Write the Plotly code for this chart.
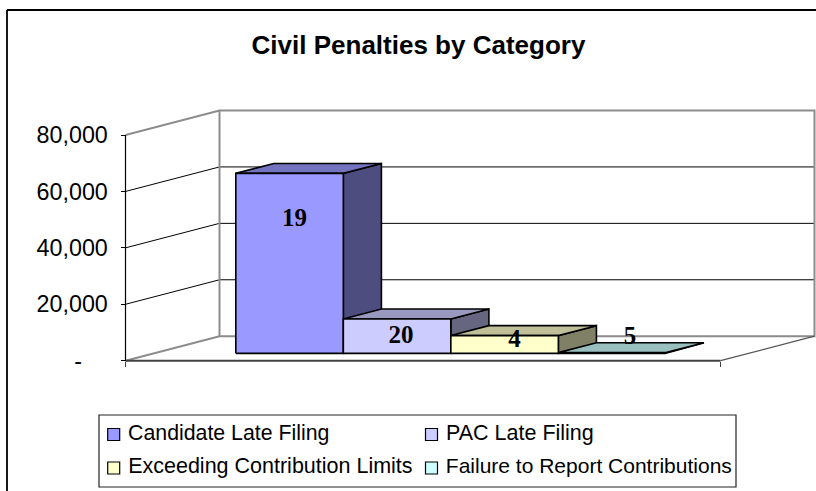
import plotly.graph_objects as go

# ---- data ----
title = "Civil Penalties by Category"
series = ["Candidate Late Filing", "PAC Late Filing", "Exceeding Contribution Limits", "Failure to Report Contributions"]
values = [63800, 12200, 6300, 250]
counts = ["19", "20", "4", "5"]
count_heights = [50000, 8400, 7000, 8100]
y_ticks = [0, 20000, 40000, 60000, 80000]
y_tick_labels = ["-\u00a0\u00a0\u00a0\u00a0", "20,000", "40,000", "60,000", "80,000"]

# ---- styles ----
front = ["#9999FF", "#CCCCFF", "#FFFFCC", "#CCFFFF"]
top = ["#7373BF", "#9999BF", "#BFBF99", "#99BFBF"]
side = ["#4D4D80", "#666680", "#808066", "#668080"]

W, H = 816, 491
X0, X1 = 125.5, 720.5          # front axis ends (px)
Y0, Y80 = 360.7, 135.0         # front plane 0 and 80,000 (px)
PXU = (Y0 - Y80) / 80000       # px per value unit
DX, DY = 94 / (X1 - X0), 24.5 / PXU   # full floor depth, in axis units
GAP = 0.1380
BW = 0.1807
D0, D1 = 0.30, 0.705


def px2x(p):
    return (p - X0) / (X1 - X0)


def py2y(p):
    return (Y0 - p) / PXU


def P(u, d, v):
    return u + DX * d, v + DY * d


def poly(pts, fill, line="black", width=1.6, name=None):
    return go.Scatter(x=[p[0] for p in pts] + [pts[0][0]], y=[p[1] for p in pts] + [pts[0][1]],
                      mode="lines", fill="toself", fillcolor=fill,
                      line=dict(color=line, width=width), hoverinfo="skip", showlegend=False, name=name)


def seg(pts, color, width):
    return go.Scatter(x=[p[0] for p in pts], y=[p[1] for p in pts], mode="lines",
                      line=dict(color=color, width=width), hoverinfo="skip", showlegend=False)


fig = go.Figure()

# walls and gridlines
for v in y_ticks[1:-1]:
    fig.add_trace(seg([P(0, 0, v), P(0, 1, v), P(1, 1, v)], "#000000", 1))
fig.add_trace(seg([P(0, 0, 80000), P(0, 1, 80000), P(1, 1, 80000), P(1, 1, 0), P(0, 1, 0), P(0, 0, 0)], "#8C8C8C", 2))
fig.add_trace(seg([P(0, 1, 0), P(0, 1, 80000)], "#8C8C8C", 2))
fig.add_trace(seg([P(1, 0, 0), P(1, 1, 0)], "#555555", 1.2))
fig.add_trace(seg([P(0, 0, 0), P(0, 0, 80000)], "#000000", 1.2))
fig.add_trace(seg([P(0, 0, 0), P(1, 0, 0)], "#404040", 2))

# bars
for i, v in enumerate(values):
    a, b = GAP + i * BW, GAP + (i + 1) * BW
    fig.add_trace(poly([P(b, D0, 0), P(b, D1, 0), P(b, D1, v), P(b, D0, v)], side[i], name=series[i]))
    fig.add_trace(poly([P(a, D0, v), P(a, D1, v), P(b, D1, v), P(b, D0, v)], top[i], name=series[i]))
    fig.add_trace(poly([P(a, D0, 0), P(b, D0, 0), P(b, D0, v), P(a, D0, v)], front[i], name=series[i]))

# data labels
label_shift = [5, 4, 10, 18]
fig.add_trace(go.Scatter(
    x=[P(GAP + (i + 0.5) * BW, D0, 0)[0] + label_shift[i] / (X1 - X0) for i in range(4)],
    y=count_heights, mode="text", text=["<b>%s</b>" % c for c in counts], textposition="middle center",
    textfont=dict(family="Liberation Serif", size=25, color="black"),
    hoverinfo="skip", showlegend=False))

# legend
leg_x = [px2x(113.7), px2x(431.5), px2x(113.7), px2x(431.5)]
leg_y = [py2y(434.5), py2y(434.5), py2y(468), py2y(468)]
leg_size = [21.3, 21.5, 21.5, 21]
for i, s in enumerate(series):
    fig.add_trace(go.Scatter(
        x=[leg_x[i]], y=[leg_y[i]], mode="markers+text", text=["\u00a0" + s], textposition="middle right",
        marker=dict(symbol="square", size=12, color=front[i], line=dict(color="black", width=1.2)),
        textfont=dict(family="Liberation Sans", size=leg_size[i], color="black"),
        name=s, hoverinfo="skip", showlegend=False))

fig.update_layout(
    width=W, height=H, margin=dict(l=0, r=0, t=0, b=0),
    paper_bgcolor="white", plot_bgcolor="white", showlegend=False,
    title=dict(text="<b>%s</b>" % title, x=418.5 / W, y=1 - 45 / H, xanchor="center", yanchor="middle",
               font=dict(family="Liberation Sans", size=26, color="black")),
    xaxis=dict(range=[px2x(0), px2x(W)], showgrid=False, zeroline=False, showline=False,
               tickmode="array", tickvals=[0, 1], ticktext=["", ""], ticks="outside", ticklen=5,
               tickcolor="#404040", anchor="free", position=1 - Y0 / H, layer="above traces"),
    yaxis=dict(range=[py2y(H), py2y(0)], showgrid=False, zeroline=False, showline=False,
               tickmode="array", tickvals=y_ticks, ticktext=y_tick_labels, ticks="outside", ticklen=5,
               tickcolor="black", anchor="free", position=X0 / W, ticklabelstandoff=8,
               tickfont=dict(family="Liberation Sans", size=23.3, color="black")),
    shapes=[
        dict(type="line", xref="paper", yref="paper", x0=7 / W, x1=1, y0=1 - 10 / H, y1=1 - 10 / H,
             line=dict(color="black", width=1.8)),
        dict(type="line", xref="paper", yref="paper", x0=7 / W, x1=7 / W, y0=1 - 10 / H, y1=0,
             line=dict(color="black", width=1.8)),
        dict(type="rect", xref="paper", yref="paper", x0=99 / W, x1=736 / W, y0=1 - 415 / H, y1=1 - 487 / H,
             line=dict(color="#222222", width=1.2), layer="below"),
    ],
)

fig.write_html("out.html", config=dict(displayModeBar=False), post_script="document.body.style.margin='0';")
